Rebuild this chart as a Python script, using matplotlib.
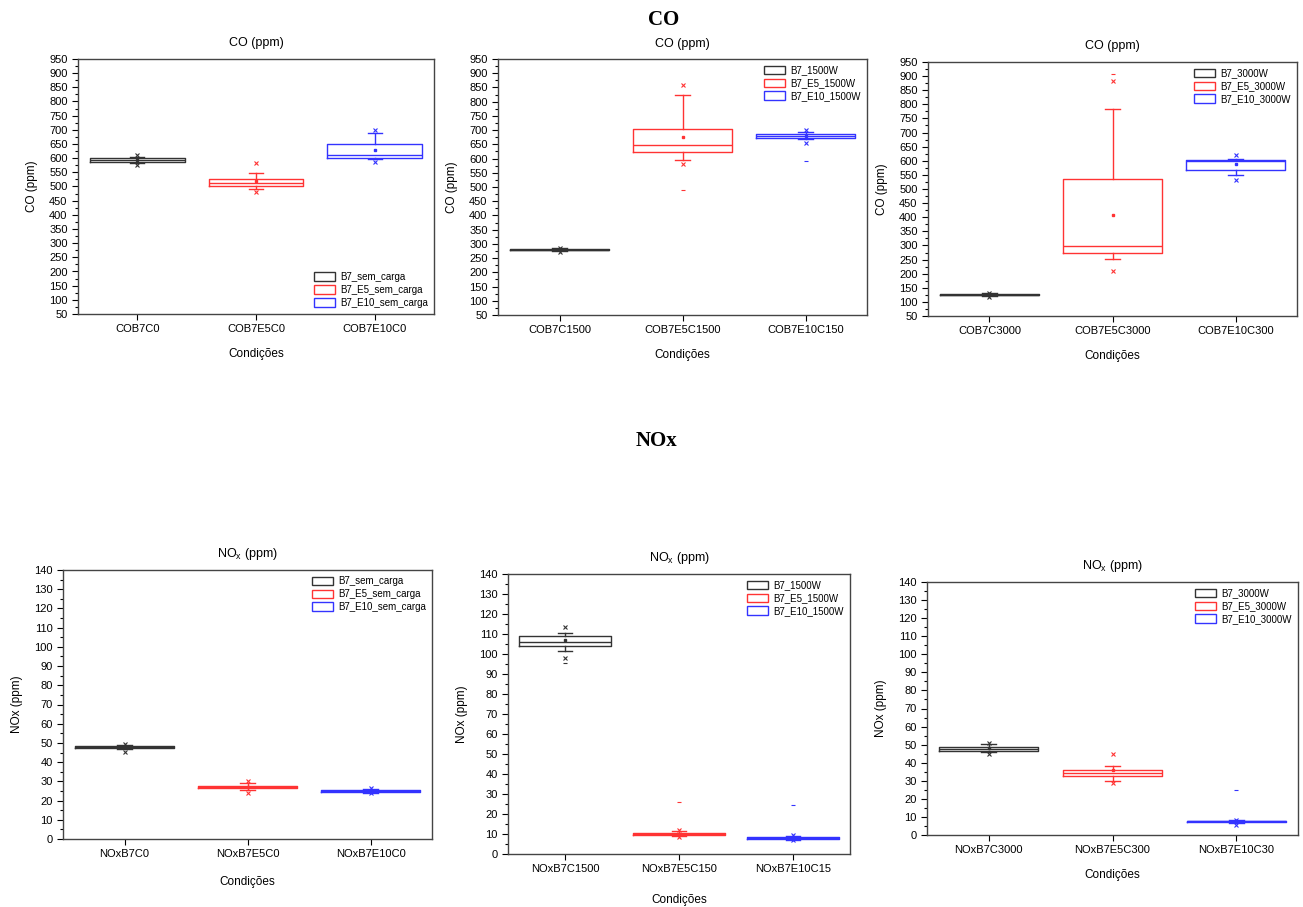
import numpy as np
import matplotlib
matplotlib.use("Agg")
import matplotlib.pyplot as plt
from matplotlib.patches import Patch
from matplotlib.ticker import MultipleLocator

plt.rcParams['font.family'] = ['Liberation Sans', 'DejaVu Sans']

colors = ['#333333', '#ff3333', '#3333ff']

# ---- CO, sem carga ----
co0_labels = ['COB7C0', 'COB7E5C0', 'COB7E10C0']
co0_legend = ['B7_sem_carga', 'B7_E5_sem_carga', 'B7_E10_sem_carga']
co0_q1 = [586, 503, 601]
co0_med = [592, 514, 611]
co0_q3 = [600, 526, 651]
co0_wlo = [582, 491, 596]
co0_whi = [604, 549, 690]
co0_mean = [595, 520, 629]
co0_x = [[576, 612], [480, 583], [588, 700]]
co0_dash = [[], [], []]

# ---- CO, 1500W ----
co1_labels = ['COB7C1500', 'COB7E5C1500', 'COB7E10C150']
co1_legend = ['B7_1500W', 'B7_E5_1500W', 'B7_E10_1500W']
co1_q1 = [277, 624, 674]
co1_med = [280, 646, 680]
co1_q3 = [282, 704, 685]
co1_wlo = [275, 594, 668]
co1_whi = [285, 824, 692]
co1_mean = [280, 677, 681]
co1_x = [[273, 286], [580, 860], [654, 700]]
co1_dash = [[], [488], [593]]

# ---- CO, 3000W ----
co2_labels = ['COB7C3000', 'COB7E5C3000', 'COB7E10C300']
co2_legend = ['B7_3000W', 'B7_E5_3000W', 'B7_E10_3000W']
co2_q1 = [123, 275, 569]
co2_med = [125, 298, 600]
co2_q3 = [127, 537, 601]
co2_wlo = [120, 251, 549]
co2_whi = [130, 784, 605]
co2_mean = [126, 409, 590]
co2_x = [[116, 132], [210, 883], [531, 620]]
co2_dash = [[], [909], []]

# ---- NOx, sem carga ----
no0_labels = ['NOxB7C0', 'NOxB7E5C0', 'NOxB7E10C0']
no0_legend = ['B7_sem_carga', 'B7_E5_sem_carga', 'B7_E10_sem_carga']
no0_q1 = [47.6, 26.5, 24.7]
no0_med = [48.0, 27.0, 25.0]
no0_q3 = [48.4, 27.8, 25.3]
no0_wlo = [46.8, 25.5, 24.2]
no0_whi = [49.0, 29.0, 25.8]
no0_mean = [48.0, 27.2, 25.0]
no0_x = [[45.5, 49.3], [24.2, 30.0], [23.8, 26.3]]
no0_dash = [[], [], []]

# ---- NOx, 1500W ----
no1_labels = ['NOxB7C1500', 'NOxB7E5C150', 'NOxB7E10C15']
no1_legend = ['B7_1500W', 'B7_E5_1500W', 'B7_E10_1500W']
no1_q1 = [103.8, 9.5, 7.6]
no1_med = [106.0, 10.0, 8.0]
no1_q3 = [109.2, 10.4, 8.4]
no1_wlo = [101.7, 9.0, 7.2]
no1_whi = [110.5, 11.5, 9.0]
no1_mean = [107.0, 10.2, 8.1]
no1_x = [[98.0, 113.5], [8.5, 12.0], [7.0, 9.5]]
no1_dash = [[95.5], [26.0], [24.5]]

# ---- NOx, 3000W ----
no2_labels = ['NOxB7C3000', 'NOxB7E5C300', 'NOxB7E10C30']
no2_legend = ['B7_3000W', 'B7_E5_3000W', 'B7_E10_3000W']
no2_q1 = [46.5, 32.5, 7.2]
no2_med = [47.5, 34.5, 7.5]
no2_q3 = [48.5, 36.0, 7.8]
no2_wlo = [45.8, 30.0, 6.8]
no2_whi = [50.2, 38.0, 8.2]
no2_mean = [48.0, 36.0, 7.5]
no2_x = [[45.0, 51.0], [29.0, 44.7], [5.5, 8.5]]
no2_dash = [[], [], [25.0]]


def draw_panel(ax, labels, legend, q1, med, q3, wlo, whi, mean, xm, dash,
               ylim, ymajor, title, ylabel, legloc, xpad=10):
    for i in range(3):
        st = [dict(q1=q1[i], med=med[i], q3=q3[i], whislo=wlo[i], whishi=whi[i],
                   mean=mean[i], fliers=xm[i])]
        c = colors[i]
        ax.bxp(st, positions=[i + 1], widths=0.8, capwidths=0.12, showmeans=True,
               boxprops=dict(color=c, lw=1),
               medianprops=dict(color=c, lw=1),
               whiskerprops=dict(color=c, lw=1),
               capprops=dict(color=c, lw=1),
               meanprops=dict(marker='s', markersize=2, markerfacecolor=c,
                              markeredgecolor=c),
               flierprops=dict(marker='x', markersize=3, markeredgecolor=c,
                               markeredgewidth=0.8))
        if dash[i]:
            ax.plot([i + 1] * len(dash[i]), dash[i], ls='none', marker='_',
                    ms=3, color=c, mew=0.8)
    ax.set_xlim(0.5, 3.5)
    ax.set_ylim(*ylim)
    ax.set_xticks([1, 2, 3])
    ax.set_xticklabels(labels, fontsize=8)
    ax.yaxis.set_major_locator(MultipleLocator(ymajor))
    ax.yaxis.set_minor_locator(MultipleLocator(ymajor / 2))
    ax.tick_params(axis='y', labelsize=8, length=4, width=0.8)
    ax.tick_params(axis='y', which='minor', length=2, width=0.8)
    ax.tick_params(axis='x', length=4, width=0.8)
    for s in ax.spines.values():
        s.set_color('#444444')
        s.set_linewidth(1)
    ax.set_title(title, fontsize=9, pad=9)
    ax.set_xlabel('Condições', fontsize=8.5, labelpad=xpad)
    ax.set_ylabel(ylabel, fontsize=8.5, labelpad=8)
    handles = [Patch(facecolor='none', edgecolor=colors[k], lw=1) for k in range(3)]
    ax.legend(handles, legend, loc=legloc, frameon=False, fontsize=7,
              handlelength=2.2, handleheight=1.0, labelspacing=0.3,
              handletextpad=0.5, borderaxespad=0.25)


fig = plt.figure(figsize=(13.03, 9.07), dpi=100)
W, H = 1303, 907


def add_ax(l, r, t, b):
    return fig.add_axes([l / W, 1 - b / H, (r - l) / W, (b - t) / H])


ax1 = add_ax(78, 434, 59, 314)
ax2 = add_ax(498, 867, 59, 315)
ax3 = add_ax(928, 1297, 62, 316)
ax4 = add_ax(63, 432, 570, 839)
ax5 = add_ax(508, 850, 574, 854)
ax6 = add_ax(927, 1298, 582, 835)

co_title = 'CO (ppm)'
no_title = r'NO$_\mathregular{x}$ (ppm)'

draw_panel(ax1, co0_labels, co0_legend, co0_q1, co0_med, co0_q3, co0_wlo, co0_whi,
           co0_mean, co0_x, co0_dash, (50, 950), 50, co_title, 'CO (ppm)', 'lower right')
draw_panel(ax2, co1_labels, co1_legend, co1_q1, co1_med, co1_q3, co1_wlo, co1_whi,
           co1_mean, co1_x, co1_dash, (50, 950), 50, co_title, 'CO (ppm)', 'upper right')
draw_panel(ax3, co2_labels, co2_legend, co2_q1, co2_med, co2_q3, co2_wlo, co2_whi,
           co2_mean, co2_x, co2_dash, (50, 950), 50, co_title, 'CO (ppm)', 'upper right')
draw_panel(ax4, no0_labels, no0_legend, no0_q1, no0_med, no0_q3, no0_wlo, no0_whi,
           no0_mean, no0_x, no0_dash, (0, 140), 10, no_title, 'NOx (ppm)', 'upper right',
           xpad=12)
draw_panel(ax5, no1_labels, no1_legend, no1_q1, no1_med, no1_q3, no1_wlo, no1_whi,
           no1_mean, no1_x, no1_dash, (0, 140), 10, no_title, 'NOx (ppm)', 'upper right',
           xpad=14)
draw_panel(ax6, no2_labels, no2_legend, no2_q1, no2_med, no2_q3, no2_wlo, no2_whi,
           no2_mean, no2_x, no2_dash, (0, 140), 10, no_title, 'NOx (ppm)', 'upper right')

fig.text(664 / W, 1 - 20 / H, 'CO', ha='center', va='center', fontsize=15,
         fontweight='bold', family='Liberation Serif')
fig.text(657 / W, 1 - 441 / H, 'NOx', ha='center', va='center', fontsize=15,
         fontweight='bold', family='Liberation Serif')

fig.savefig('out.png', dpi=100)
